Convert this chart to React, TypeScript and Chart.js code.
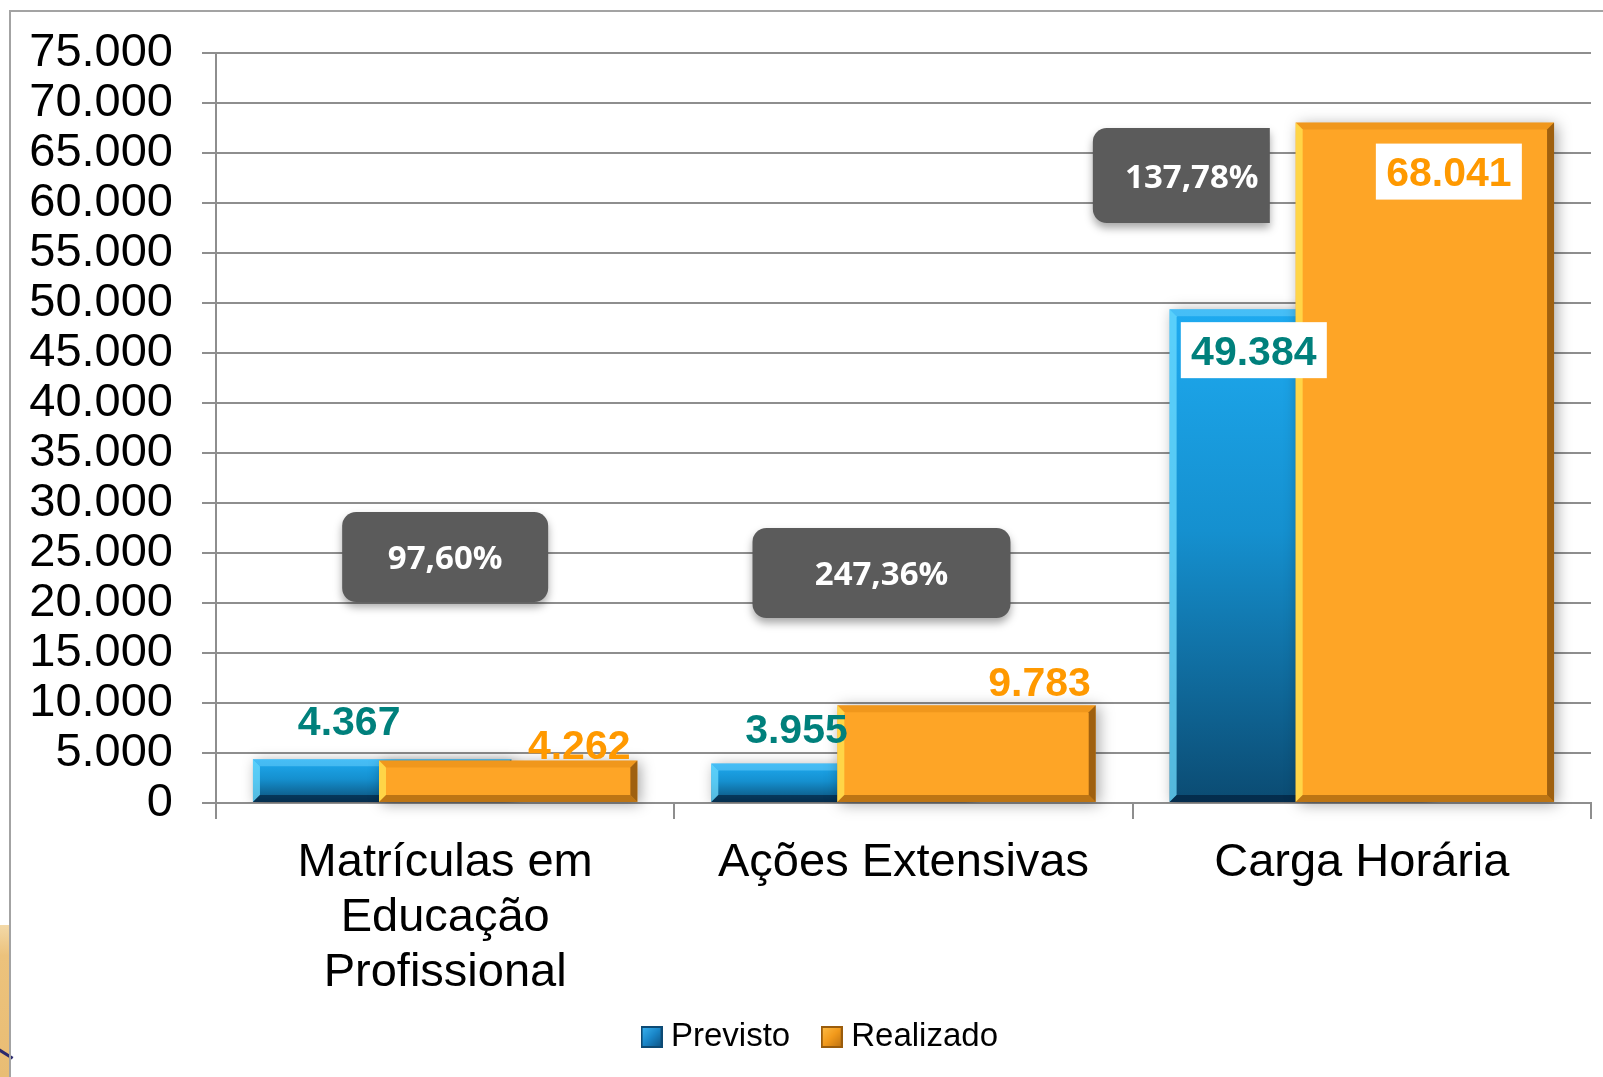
import React, { useEffect, useRef } from 'react';
import { Chart, registerables } from 'chart.js';

Chart.register(...registerables);

// ---------- data ----------
const categories: (string | string[])[] = [
  ['Matrículas em', 'Educação', 'Profissional'],
  'Ações Extensivas',
  'Carga Horária',
];
const seriesNames = ['Previsto', 'Realizado'];
const previsto = [4367, 3955, 49384];
const realizado = [4262, 9783, 68041];
const yMin = 0;
const yMax = 75000;
const yStep = 5000;

// ---------- styles ----------
const FONT = '"Liberation Sans", Arial, sans-serif';
const GRID = '#8e8e8e';
const ORANGE = '#FEA526';
const TEAL = '#00807C';
const ORANGE_TEXT = '#FF9900';

// label offsets relative to bar centre / bar top (pixels)
const LABEL_STYLE = [
  [
    { dx: -33, dy: -39, box: false },
    { dx: -44, dy: -35, box: false },
    { dx: -45, dy: 41, box: true },
  ],
  [
    { dx: 71, dy: -16, box: false },
    { dx: 73, dy: -24, box: false },
    { dx: 24, dy: 49, box: true },
  ],
];

// percentage callouts: anchored at category, y value (axis units), pixel sizes
const CALLOUT_STYLE = [
  { yValue: 24600, dx: 0, w: 206, h: 90, cut: 0 },
  { yValue: 23000, dx: -22, w: 258, h: 90, cut: 0 },
  { yValue: 62750, dx: -170, w: 198, h: 95, cut: 21 },
];

const fmtThousands = (v: number) =>
  String(Math.round(v)).replace(/\B(?=(\d{3})+(?!\d))/g, '.');
const fmtPct = (v: number) => v.toFixed(2).replace('.', ',') + '%';

function blueFill(c: any) {
  if (c.type !== 'data') return '#1A8ACB';
  const chart = c.chart;
  const ys = chart.scales && chart.scales.y;
  if (!ys || !chart.chartArea) return '#1A8ACB';
  const top = ys.getPixelForValue(c.raw);
  const bottom = ys.getPixelForValue(0);
  const g = chart.ctx.createLinearGradient(0, top, 0, bottom);
  g.addColorStop(0, '#1EAAF0');
  g.addColorStop(0.45, '#1590CF');
  g.addColorStop(1, '#0B4B72');
  return g;
}

function applyShadow(ctx: CanvasRenderingContext2D) {
  ctx.shadowColor = 'rgba(0,0,0,0.35)';
  ctx.shadowBlur = 14;
  ctx.shadowOffsetX = 3;
  ctx.shadowOffsetY = 2;
}

function poly(ctx: CanvasRenderingContext2D, pts: number[][], fill: string) {
  ctx.beginPath();
  ctx.moveTo(pts[0][0], pts[0][1]);
  for (let i = 1; i < pts.length; i++) ctx.lineTo(pts[i][0], pts[i][1]);
  ctx.closePath();
  ctx.fillStyle = fill;
  ctx.fill();
}

const BEVEL = [
  { top: 'rgba(120,215,255,0.45)', left: 'rgba(110,220,255,0.75)', right: 'rgba(0,25,50,0.45)', bottom: 'rgba(0,20,45,0.55)' },
  { top: 'rgba(200,110,0,0.25)', left: 'rgba(255,225,80,0.8)', right: 'rgba(95,50,0,0.6)', bottom: 'rgba(110,60,0,0.45)' },
];

function drawBevel(chart: any, di: number) {
  const ctx = chart.ctx as CanvasRenderingContext2D;
  const meta = chart.getDatasetMeta(di);
  const c = BEVEL[di];
  meta.data.forEach((el: any) => {
    const { x, y, width, base } = el.getProps(['x', 'y', 'width', 'base'], true);
    const l = x - width / 2, r = x + width / 2;
    const t = Math.min(y, base), b = Math.max(y, base);
    const s = Math.min(7, (b - t) / 3);
    ctx.save();
    poly(ctx, [[l, t], [r, t], [r - s, t + s], [l + s, t + s]], c.top);
    poly(ctx, [[l, t], [l + s, t + s], [l + s, b - s], [l, b]], c.left);
    poly(ctx, [[r, t], [r, b], [r - s, b - s], [r - s, t + s]], c.right);
    poly(ctx, [[l, b], [l + s, b - s], [r - s, b - s], [r, b]], c.bottom);
    ctx.restore();
  });
}

function makeMarker(light: string, mid: string, dark: string, edge: string) {
  const cv = document.createElement('canvas');
  cv.width = 22;
  cv.height = 22;
  const c = cv.getContext('2d')!;
  const g = c.createLinearGradient(0, 0, 22, 22);
  g.addColorStop(0, light);
  g.addColorStop(0.5, mid);
  g.addColorStop(1, dark);
  c.fillStyle = g;
  c.fillRect(0, 0, 22, 22);
  c.strokeStyle = edge;
  c.lineWidth = 2;
  c.strokeRect(1, 1, 20, 20);
  return cv;
}

// draw Realizado on top of Previsto; nudge legend to Excel position
const layerPlugin = {
  id: 'layerOrder',
  afterLayout(chart: any) {
    const lg = chart.legend;
    if (lg) {
      lg.left += 12.75;
      lg.right += 12.75;
      lg.top -= 21.5;
      lg.bottom -= 21.5;
    }
  },
  beforeDatasetDraw(chart: any, args: any) {
    if (args.index === 1) return false;
    chart.ctx.save();
    applyShadow(chart.ctx);
    return true;
  },
  afterDatasetDraw(chart: any, args: any) {
    if (args.index !== 0) return;
    const ctx = chart.ctx;
    ctx.restore();
    drawBevel(chart, 0);
    ctx.save();
    applyShadow(ctx);
    chart.getDatasetMeta(1).controller.draw();
    ctx.restore();
    drawBevel(chart, 1);
  },
};

const labelPlugin = {
  id: 'valueLabels',
  afterDatasetsDraw(chart: any) {
    const ctx = chart.ctx as CanvasRenderingContext2D;
    const series = [previsto, realizado];
    const colors = [TEAL, ORANGE_TEXT];
    series.forEach((vals, di) => {
      const meta = chart.getDatasetMeta(di);
      meta.data.forEach((el: any, i: number) => {
        const st = LABEL_STYLE[di][i];
        const tx = el.x + st.dx;
        const ty = el.y + st.dy;
        ctx.save();
        if (st.box) {
          ctx.fillStyle = '#ffffff';
          ctx.fillRect(tx - 73, ty - 28, 146, 56);
        }
        ctx.font = `bold 41px ${FONT}`;
        ctx.fillStyle = colors[di];
        ctx.textAlign = 'center';
        ctx.textBaseline = 'alphabetic';
        ctx.fillText(fmtThousands(vals[i]), tx, ty + 14.5);
        ctx.restore();
      });
    });

    // percentage callouts
    const xs = chart.scales.x;
    const ys = chart.scales.y;
    CALLOUT_STYLE.forEach((cs, i) => {
      const pct = (realizado[i] / previsto[i]) * 100;
      const cx = xs.getPixelForValue(i) + cs.dx;
      const cy = ys.getPixelForValue(cs.yValue);
      const left = cx - cs.w / 2;
      const top = cy - cs.h / 2;
      const w = cs.w - cs.cut;
      ctx.save();
      ctx.shadowColor = 'rgba(0,0,0,0.35)';
      ctx.shadowBlur = 8;
      ctx.shadowOffsetX = 0;
      ctx.shadowOffsetY = 5;
      ctx.beginPath();
      const r = 14;
      if (cs.cut > 0) (ctx as any).roundRect(left, top, w, cs.h, [r, 0, 0, r]);
      else (ctx as any).roundRect(left, top, w, cs.h, r);
      ctx.fillStyle = '#5B5B5B';
      ctx.fill();
      ctx.restore();
      ctx.save();
      ctx.font = `bold 33px "Open Sans", "Noto Sans", sans-serif`;
      ctx.fillStyle = '#ffffff';
      ctx.textAlign = 'center';
      ctx.textBaseline = 'alphabetic';
      ctx.fillText(fmtPct(pct), cx, cy + 12);
      ctx.restore();
    });
  },
};

export default function App() {
  const ref = useRef<HTMLCanvasElement | null>(null);

  useEffect(() => {
    if (!ref.current) return;
    const markers = [
      makeMarker('#3DB8F5', '#1A86C8', '#0C4F7E', '#0D4A74'),
      makeMarker('#FFC04A', '#F29A1C', '#B86E10', '#9A5C0C'),
    ];
    const chart = new Chart(ref.current, {
      type: 'bar',
      data: {
        labels: categories as any,
        datasets: [
          {
            label: seriesNames[0],
            data: previsto,
            backgroundColor: blueFill as any,
            borderWidth: 0,
          },
          {
            label: seriesNames[1],
            data: realizado,
            backgroundColor: ORANGE,
            borderWidth: 0,
          },
        ],
      },
      options: {
        responsive: false,
        animation: false,
        devicePixelRatio: 1,
        categoryPercentage: 0.55,
        barPercentage: 2.05,
        layout: { padding: { top: 53, left: 30, right: 12, bottom: -8 } },
        plugins: {
          tooltip: { enabled: false },
          legend: {
            position: 'bottom',
            labels: {
              color: '#000',
              font: { family: FONT, size: 33 },
              usePointStyle: true,
              pointStyleWidth: 6,
              boxHeight: 22,
              padding: 38.5,
              generateLabels: (c: any) => {
                const items = (Chart.defaults.plugins.legend.labels as any).generateLabels(c);
                items.forEach((it: any, i: number) => {
                  it.pointStyle = markers[i];
                  it.lineWidth = 0;
                });
                return items;
              },
            },
          },
        },
        scales: {
          x: {
            afterFit: (scale: any) => {
              scale.height = 200.5;
            },
            grid: {
              display: true,
              drawOnChartArea: false,
              drawTicks: true,
              tickLength: 16,
              color: GRID,
              lineWidth: 2,
              offset: true,
            },
            border: { display: true, color: GRID, width: 2 },
            ticks: {
              color: '#000',
              font: { family: FONT, size: 47, lineHeight: 1.17 },
              padding: 17,
              maxRotation: 0,
              autoSkip: false,
            },
          },
          y: {
            min: yMin,
            max: yMax,
            afterFit: (scale: any) => {
              scale.width = 186;
              scale.paddingTop = 0;
              scale.paddingBottom = 0;
            },
            grid: { color: GRID, lineWidth: 2, tickLength: 14 },
            border: { display: true, color: GRID, width: 2 },
            ticks: {
              stepSize: yStep,
              autoSkip: false,
              color: '#000',
              font: { family: FONT, size: 47 },
              padding: 29,
              callback: (v: any) => fmtThousands(Number(v)),
            },
          },
        },
      },
      plugins: [layerPlugin, labelPlugin],
    } as any);
    return () => chart.destroy();
  }, []);

  return (
    <div style={{ position: 'fixed', left: 0, top: 0, width: 1603, height: 1077, overflow: 'hidden', background: '#fff' }}>
      <div style={{ position: 'absolute', left: 0, top: 925, width: 9, height: 152, background: 'linear-gradient(180deg, #F3D9A8 0%, #ECC27C 20%, #E9BD74 100%)' }} />
      <div style={{ position: 'absolute', left: -4, top: 1052, width: 18, height: 3, background: '#2B2A6E', transform: 'rotate(32deg)' }} />
      <div style={{ position: 'absolute', left: 9, top: 10, width: 1700, height: 1200, borderLeft: '2px solid #A3A3A3', borderTop: '2px solid #A3A3A3' }} />
      <canvas ref={ref} width={1603} height={1077} style={{ position: 'absolute', left: 0, top: 0, width: 1603, height: 1077 }} />
    </div>
  );
}
